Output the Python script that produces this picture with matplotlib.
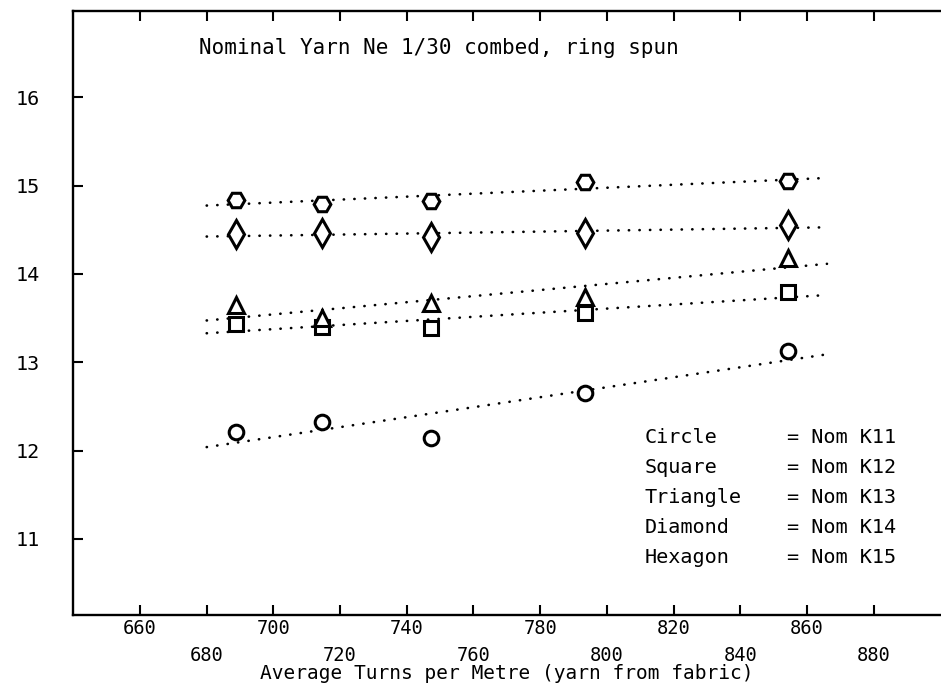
"""Finished fabric value vs. average yarn twist, five nominal tightness settings."""
import numpy as np
import matplotlib
matplotlib.use("Agg")
import matplotlib.pyplot as plt

# average turns per metre, yarn taken from fabric
twist = [688.7, 714.5, 747.4, 793.5, 854.3]

# one series per nominal K setting
k11_circle = [12.21, 12.32, 12.14, 12.65, 13.13]
k12_square = [13.43, 13.40, 13.39, 13.56, 13.79]
k13_triangle = [13.65, 13.50, 13.67, 13.74, 14.18]
k14_diamond = [14.45, 14.46, 14.42, 14.46, 14.55]
k15_hexagon = [14.84, 14.79, 14.82, 15.04, 15.05]

shape_names = ["Circle", "Square", "Triangle", "Diamond", "Hexagon"]
nom_labels = ["Nom K11", "Nom K12", "Nom K13", "Nom K14", "Nom K15"]

xticks_row1 = [660, 700, 740, 780, 820, 860]
xticks_row2 = [680, 720, 760, 800, 840, 880]
yticks = [11, 12, 13, 14, 15, 16]
fit_span = [680, 866]

plt.rcParams["font.family"] = ["DejaVu Sans Mono"]

fig = plt.figure(figsize=(9.41, 6.83), dpi=100)
ax = fig.add_axes([0.0779, 0.0996, 0.9214, 0.8848])

series = [
    (k11_circle, "o", 10.5),
    (k12_square, "s", 9.5),
    (k13_triangle, "^", 11),
    (k14_diamond, "d", 14),
    (k15_hexagon, "H", 12),
]

fx = np.array(fit_span, dtype=float)
for ys, marker, ms in series:
    slope, icept = np.polyfit(twist, ys, 1)
    ax.plot(fx, slope * fx + icept, color="black", lw=1.9,
            linestyle=(0, (0.1, 3.9)), dash_capstyle="round", zorder=2)
    ax.plot(twist, ys, linestyle="none", marker=marker, ms=ms,
            mfc="white", mec="black", mew=2.2, zorder=3)

ax.set_xlim(640, 900)
ax.set_ylim(10.14, 16.98)

ax.set_xticks(xticks_row1)
ax.set_xticklabels([str(v) for v in xticks_row1])
ax.set_xticks(xticks_row2, minor=True)
ax.set_xticklabels([str(v) for v in xticks_row2], minor=True)
ax.tick_params(axis="x", which="both", direction="in", length=7, width=1.5,
               top=True, labelsize=13.5)
ax.tick_params(axis="x", which="major", pad=3)
ax.tick_params(axis="x", which="minor", pad=22)

ax.set_yticks(yticks)
ax.set_yticklabels([str(v) for v in yticks])
ax.tick_params(axis="y", direction="in", length=7, width=1.5, pad=24,
               labelsize=14.5)

for side in ("left", "bottom", "top"):
    ax.spines[side].set_linewidth(1.7)
ax.spines["right"].set_visible(False)

ax.set_xlabel("Average Turns per Metre (yarn from fabric)", fontsize=14)
ax.xaxis.set_label_coords(0.5, -0.081)

ax.text(0.145, 0.938, "Nominal Yarn Ne 1/30 combed, ring spun",
        transform=ax.transAxes, ha="left", va="center", fontsize=15)

# key: shape name, then the nominal setting it stands for
for i, (name, nom) in enumerate(zip(shape_names, nom_labels)):
    y = 0.2945 - i * 0.0497
    ax.text(0.659, y, name, transform=ax.transAxes, ha="left", va="center",
            fontsize=14.5)
    ax.text(0.823, y, "= " + nom, transform=ax.transAxes, ha="left",
            va="center", fontsize=14.5)

fig.savefig("out.png", dpi=100)
